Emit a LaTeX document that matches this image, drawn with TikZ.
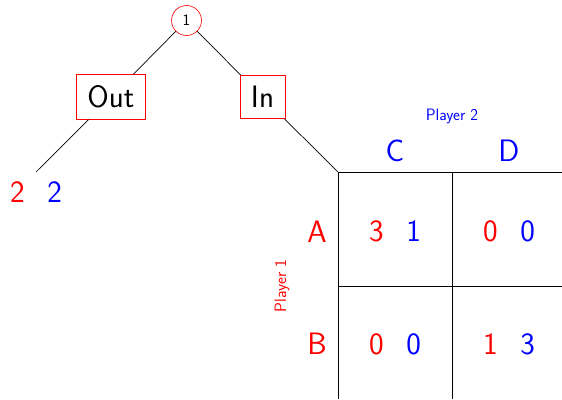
\documentclass[tikz,border=0pt]{standalone}
\usepackage{fontspec}
\begin{document}
\begin{tikzpicture}[x=1pt,y=-1pt,
  big/.style={font=\fontsize{31}{36}\selectfont\sffamily, inner sep=0pt},
  small/.style={font=\fontsize{16.5}{19}\selectfont\sffamily, inner sep=0pt},
  mov/.style={font=\fontsize{31}{36}\selectfont\sffamily, draw=red, line width=0.6pt, inner sep=11pt, text=black},
  treeedge/.style={line width=0.7pt, black},
  gridline/.style={line width=0.8pt, black}]
\useasboundingbox (0,0) rectangle (562,399);
% game tree
\node[circle, draw=red, line width=0.6pt, minimum size=30pt, inner sep=0pt, font=\fontsize{16}{18}\selectfont\sffamily] (root) at (186.5,20.5) {1};
\node[mov] (out) at (111,97) {Out};
\node[mov] (in) at (262.5,97) {In};
\coordinate (leaf) at (36,172);
\coordinate (corner) at (338,172);
\draw[treeedge] (root) -- (out);
\draw[treeedge] (root) -- (in);
\draw[treeedge] (out) -- (leaf);
\draw[treeedge] (in) -- (corner);
\node[big] (leafpay) at (36,192) {\textcolor{red}{2}\hspace{22.5pt}\textcolor{blue}{2}};
% matrix grid
\draw[gridline] (corner) -- (562,172);
\draw[gridline] (338,286) -- (562,286);
\draw[gridline] (corner) -- (338,399);
\draw[gridline] (452,172) -- (452,399);
% labels
\node[small, text=blue] (p2) at (452,116) {Player 2};
\node[small, text=red, rotate=90] (p1) at (282,286) {Player 1};
\node[big, text=blue] (colC) at (395,151) {C};
\node[big, text=blue] (colD) at (509,151) {D};
\node[big, text=red] (rowA) at (317,232) {A};
\node[big, text=red] (rowB) at (317,344) {B};
% payoffs
\node[big] (ac) at (395,231) {\textcolor{red}{3}\hspace{22.5pt}\textcolor{blue}{1}};
\node[big] (ad) at (509,231) {\textcolor{red}{0}\hspace{22.5pt}\textcolor{blue}{0}};
\node[big] (bc) at (395,344) {\textcolor{red}{0}\hspace{22.5pt}\textcolor{blue}{0}};
\node[big] (bd) at (509,344) {\textcolor{red}{1}\hspace{22.5pt}\textcolor{blue}{3}};
\end{tikzpicture}
\end{document}
